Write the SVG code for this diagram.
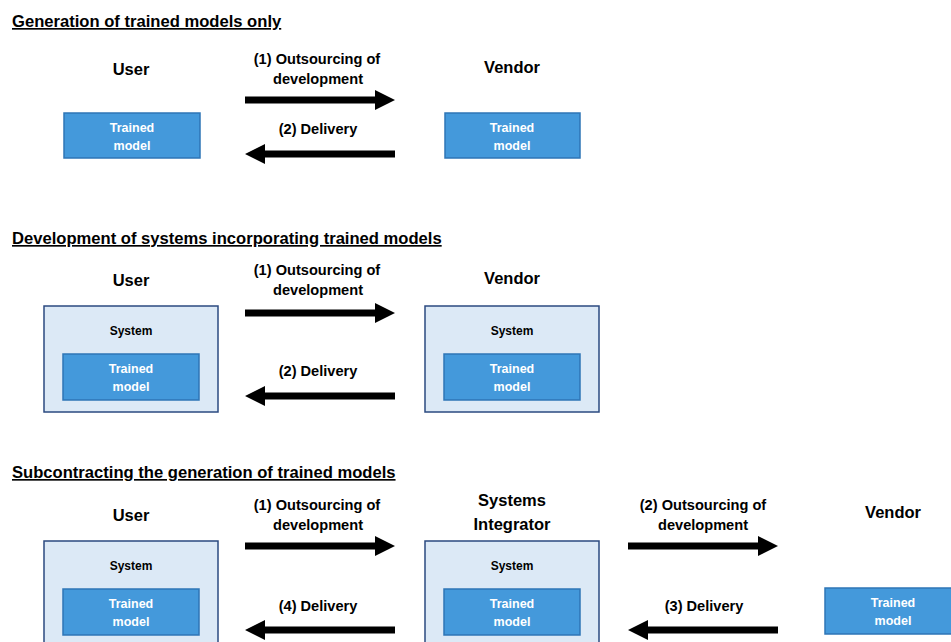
<svg xmlns="http://www.w3.org/2000/svg" width="951" height="642" viewBox="0 0 951 642">
<defs>
<style>
text{font-family:"Liberation Sans","Noto Sans",Arial,sans-serif;font-weight:bold;fill:#000}
.title{font-size:16.6px;text-decoration:underline}
.actor{font-size:16.5px;text-anchor:middle}
.lbl{font-size:14.6px;text-anchor:middle}
.sys{fill:#dce9f6;stroke:#2b4a80;stroke-width:1.5}
.sysT{font-size:12px;text-anchor:middle}
.tm{fill:#4499db;stroke:#2e75b6;stroke-width:1.5}
.tmT{font-size:12.5px;text-anchor:middle;fill:#fff}
.arr{fill:#000}
</style>
<path id="ar" d="M0,-3.5 H130 V-10 L150,0 L130,10 V3.5 H0 Z"/>
</defs>
<rect width="951" height="642" fill="#fff"/>

<g id="titles">
<text class="title" x="12" y="27">Generation of trained models only</text>
<text class="title" x="12" y="244">Development of systems incorporating trained models</text>
<text class="title" x="12" y="478">Subcontracting the generation of trained models</text>
</g>

<!-- Section 1 -->
<g id="s1-user">
<text class="actor" x="131" y="75">User</text>
<rect class="tm" x="64" y="113" width="136" height="45"/>
<text class="tmT" x="132" y="132">Trained</text>
<text class="tmT" x="132" y="150">model</text>
</g>
<g id="s1-vendor">
<text class="actor" x="512" y="73">Vendor</text>
<rect class="tm" x="445" y="113" width="135" height="45"/>
<text class="tmT" x="512" y="132">Trained</text>
<text class="tmT" x="512" y="150">model</text>
</g>

<!-- Section 2 -->
<g id="s2-user">
<text class="actor" x="131" y="286">User</text>
<rect class="sys" x="44" y="306" width="174" height="106"/>
<text class="sysT" x="131" y="335">System</text>
<rect class="tm" x="63" y="354" width="136" height="46"/>
<text class="tmT" x="131" y="373">Trained</text>
<text class="tmT" x="131" y="391">model</text>
</g>
<g id="s2-vendor">
<text class="actor" x="512" y="284">Vendor</text>
<rect class="sys" x="425" y="306" width="174" height="106"/>
<text class="sysT" x="512" y="335">System</text>
<rect class="tm" x="444" y="354" width="136" height="46"/>
<text class="tmT" x="512" y="373">Trained</text>
<text class="tmT" x="512" y="391">model</text>
</g>

<!-- Section 3 -->
<g id="s3-user">
<text class="actor" x="131" y="521">User</text>
<rect class="sys" x="44" y="541" width="174" height="110"/>
<text class="sysT" x="131" y="570">System</text>
<rect class="tm" x="63" y="589" width="136" height="46"/>
<text class="tmT" x="131" y="608">Trained</text>
<text class="tmT" x="131" y="626">model</text>
</g>
<g id="s3-integrator">
<text class="actor" x="512" y="506">Systems</text>
<text class="actor" x="512" y="530">Integrator</text>
<rect class="sys" x="425" y="541" width="174" height="110"/>
<text class="sysT" x="512" y="570">System</text>
<rect class="tm" x="444" y="589" width="136" height="46"/>
<text class="tmT" x="512" y="608">Trained</text>
<text class="tmT" x="512" y="626">model</text>
</g>
<g id="s3-vendor">
<text class="actor" x="893" y="518">Vendor</text>
<rect class="tm" x="825" y="588" width="140" height="46"/>
<text class="tmT" x="893" y="607">Trained</text>
<text class="tmT" x="893" y="625">model</text>
</g>

<g id="connectors">
<use href="#ar" class="arr" transform="translate(245,100)"/>
<use href="#ar" class="arr" transform="translate(395,154) scale(-1,1)"/>
<use href="#ar" class="arr" transform="translate(245,313)"/>
<use href="#ar" class="arr" transform="translate(395,396) scale(-1,1)"/>
<use href="#ar" class="arr" transform="translate(245,546)"/>
<use href="#ar" class="arr" transform="translate(395,630) scale(-1,1)"/>
<use href="#ar" class="arr" transform="translate(628,546)"/>
<use href="#ar" class="arr" transform="translate(778,630) scale(-1,1)"/>
</g>

<g id="labels">
<text class="lbl" x="317" y="64">(1) Outsourcing of</text>
<text class="lbl" x="318" y="84">development</text>
<text class="lbl" x="318" y="134">(2) Delivery</text>
<text class="lbl" x="317" y="275">(1) Outsourcing of</text>
<text class="lbl" x="318" y="295">development</text>
<text class="lbl" x="318" y="376">(2) Delivery</text>
<text class="lbl" x="317" y="510">(1) Outsourcing of</text>
<text class="lbl" x="318" y="530">development</text>
<text class="lbl" x="318" y="611">(4) Delivery</text>
<text class="lbl" x="703" y="510">(2) Outsourcing of</text>
<text class="lbl" x="703" y="530">development</text>
<text class="lbl" x="704" y="611">(3) Delivery</text>
</g>
</svg>
